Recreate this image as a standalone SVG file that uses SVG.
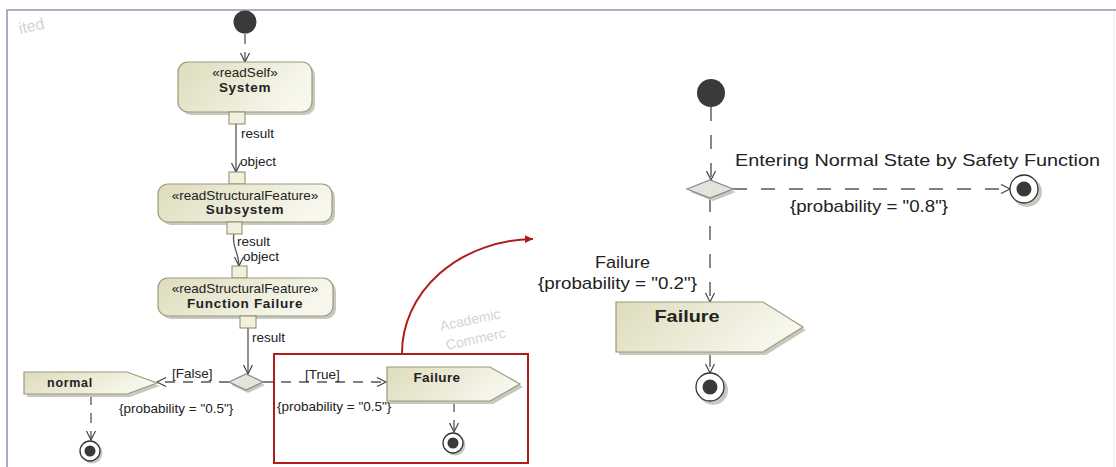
<svg xmlns="http://www.w3.org/2000/svg" width="1116" height="467" viewBox="0 0 1116 467">
<defs>
<linearGradient id="g" x1="0" y1="0" x2="1" y2="0.3">
<stop offset="0" stop-color="#dedcbc"/>
<stop offset="1" stop-color="#f7f7ee"/>
</linearGradient>
<marker id="oa" markerWidth="12" markerHeight="12" refX="10" refY="5" orient="auto" markerUnits="userSpaceOnUse">
<path d="M1,0.5 L10,5 L1,9.5" fill="none" stroke="#444" stroke-width="1.2"/>
</marker>
<marker id="ra" markerWidth="10" markerHeight="10" refX="8" refY="4" orient="auto" markerUnits="userSpaceOnUse">
<path d="M0,0 L8,4 L0,8 z" fill="#b01c1c"/>
</marker>
<style>
.t{font-family:"Liberation Sans",Arial,sans-serif;fill:#222}
.s{font-size:13.5px}
.b{font-size:13.5px;font-weight:bold;letter-spacing:0.7px}
.act{fill:url(#g);stroke:#9a9a78;stroke-width:1.2}
.sh{fill:#c8c8c0}
.pin{fill:#f1f0dc;stroke:#8a8a6a;stroke-width:1}
.sol{fill:none;stroke:#555;stroke-width:1.3}
.dl{fill:none;stroke:#555;stroke-width:1.3;stroke-dasharray:10 8}
.dr{fill:none;stroke:#555;stroke-width:1.4;stroke-dasharray:14 14}
.init{fill:#3a3a3a}
.fo{fill:#fff;stroke:#333;stroke-width:1.3}
.fi{fill:#3a3a3a}
.dia{fill:#e4e4de;stroke:#888;stroke-width:1.2}
.wm{font-family:"Liberation Sans",Arial,sans-serif;fill:#d4d4d4;font-size:14px}
.r{font-size:17px}
</style>
</defs>
<rect width="1116" height="467" fill="#fff"/>
<path d="M7,467 V10 H1116" fill="none" stroke="#8e9bb0" stroke-width="1.6"/>
<line x1="1114" y1="11" x2="1114" y2="467" stroke="#e8e8e8" stroke-width="1"/>
<text class="wm" x="20" y="34" transform="rotate(-12 20 34)" style="font-size:16px">ited</text>
<text class="wm" x="441" y="331" transform="rotate(-12 441 331)">Academic</text>
<text class="wm" x="447" y="350" transform="rotate(-12 447 350)">Commerc</text>

<g id="connectors">
<path class="dl" d="M245,34 V62" marker-end="url(#oa)"/>
<path class="sol" d="M236,124 V172" marker-end="url(#oa)"/>
<path class="sol" d="M234,234 C231,246 239,252 239,266" marker-end="url(#oa)"/>
<path class="sol" d="M248,328 V374" marker-end="url(#oa)"/>
<path class="dl" d="M229,382 H157" marker-end="url(#oa)"/>
<path class="dl" d="M263,382 H386" marker-end="url(#oa)"/>
<path class="dl" d="M91,395 V440" marker-end="url(#oa)"/>
<path class="dl" d="M454,402 V432" stroke-dasharray="13 13" marker-end="url(#oa)"/>
<path class="dr" d="M711,107 V180" marker-end="url(#oa)"/>
<path class="dr" d="M733,189 H1010" marker-end="url(#oa)"/>
<path class="dr" d="M710,198 V302" marker-end="url(#oa)"/>
<path class="dr" d="M710,353 V373" stroke-dasharray="8 6" marker-end="url(#oa)"/>
<path d="M402,354 A133,114 0 0 1 533,239" fill="none" stroke="#b01c1c" stroke-width="2" marker-end="url(#ra)"/>
</g>

<g id="labels">
<text class="t s" x="241" y="138">result</text>
<text class="t s" x="240" y="166">object</text>
<text class="t s" x="237" y="246">result</text>
<text class="t s" x="243" y="261">object</text>
<text class="t s" x="252" y="342">result</text>
<text class="t s" x="172" y="378">[False]</text>
<text class="t s" x="119" y="413">{probability = "0.5"}</text>
<text class="t s" x="305" y="379">[True]</text>
<text class="t s" x="277" y="411">{probability = "0.5"}</text>
<text class="t r" x="735" y="166" textLength="365" lengthAdjust="spacingAndGlyphs">Entering Normal State by Safety Function</text>
<text class="t r" x="790" y="212" textLength="158" lengthAdjust="spacingAndGlyphs">{probability = "0.8"}</text>
<text class="t r" x="595" y="268" textLength="55" lengthAdjust="spacingAndGlyphs">Failure</text>
<text class="t r" x="538" y="289" textLength="159" lengthAdjust="spacingAndGlyphs">{probability = "0.2"}</text>
</g>

<g id="highlight">
<rect x="274" y="354" width="254" height="109" fill="none" stroke="#b01c1c" stroke-width="2"/>
</g>

<g id="initial1"><circle class="init" cx="245" cy="22" r="11.5"/></g>

<g id="system">
<rect class="sh" x="181" y="65" width="134" height="50" rx="10"/>
<rect class="act" x="178" y="62" width="134" height="50" rx="10"/>
<text class="t s" x="245" y="77" text-anchor="middle">«readSelf»</text>
<text class="t b" x="245" y="92" text-anchor="middle">System</text>
<rect class="pin" x="229" y="112" width="16" height="12"/>
</g>

<g id="subsystem">
<rect class="pin" x="229" y="172" width="16" height="12"/>
<rect class="sh" x="161" y="187" width="174" height="38" rx="10"/>
<rect class="act" x="158" y="184" width="174" height="38" rx="10"/>
<text class="t s" x="245" y="200" text-anchor="middle">«readStructuralFeature»</text>
<text class="t b" x="245" y="214" text-anchor="middle">Subsystem</text>
<rect class="pin" x="227" y="222" width="15" height="12"/>
</g>

<g id="functionFailure">
<rect class="pin" x="232" y="266" width="15" height="12"/>
<rect class="sh" x="161" y="281" width="175" height="38" rx="10"/>
<rect class="act" x="158" y="278" width="175" height="38" rx="10"/>
<text class="t s" x="245" y="293" text-anchor="middle">«readStructuralFeature»</text>
<text class="t b" x="245" y="308" text-anchor="middle">Function Failure</text>
<rect class="pin" x="240" y="316" width="16" height="12"/>
</g>

<g id="decision1">
<path class="sh" d="M231,385 L248,377 L265,385 L248,393 z"/>
<path class="dia" d="M229,382 L246,374 L263,382 L246,390 z"/>
</g>

<g id="normal">
<path class="sh" d="M27,375 L130,375 L160,386 L130,397 L27,397 z"/>
<path class="act" d="M24,372 L127,372 L157,383 L127,394 L24,394 z"/>
<text class="t b" x="70" y="387" text-anchor="middle" style="font-size:12.5px">normal</text>
</g>

<g id="final1">
<circle class="sh" cx="92" cy="453" r="10.5"/>
<circle class="fo" cx="90" cy="451" r="10"/>
<circle class="fi" cx="90" cy="451" r="5.5"/>
</g>

<g id="failureSmall">
<path class="sh" d="M390,370 L493,370 L523,387 L493,404 L390,404 z"/>
<path class="act" d="M387,367 L490,367 L520,384 L490,401 L387,401 z"/>
<text class="t b" x="437" y="382" text-anchor="middle" style="letter-spacing:0.4px">Failure</text>
</g>

<g id="final2">
<circle class="sh" cx="455" cy="445" r="10.5"/>
<circle class="fo" cx="453" cy="443" r="10"/>
<circle class="fi" cx="453" cy="443" r="5.5"/>
</g>

<g id="initial2"><circle class="init" cx="711" cy="93" r="14"/></g>

<g id="decision2">
<path class="sh" d="M690,192 L713,183 L736,192 L713,201 z"/>
<path class="dia" d="M687,189 L710,180 L733,189 L710,198 z"/>
</g>

<g id="final3">
<circle class="sh" cx="1027" cy="192" r="15"/>
<circle class="fo" cx="1024" cy="189" r="14"/>
<circle class="fi" cx="1024" cy="189" r="7.5"/>
</g>

<g id="failureBig">
<path class="sh" d="M619,305 L766,305 L806,330 L766,355 L619,355 z"/>
<path class="act" d="M616,302 L763,302 L803,327 L763,352 L616,352 z"/>
<text class="t" x="687" y="322" text-anchor="middle" font-weight="bold" font-size="17" textLength="65" lengthAdjust="spacingAndGlyphs">Failure</text>
</g>

<g id="final4">
<circle class="sh" cx="713" cy="390" r="15"/>
<circle class="fo" cx="710" cy="387" r="14"/>
<circle class="fi" cx="710" cy="387" r="7.5"/>
</g>
</svg>
